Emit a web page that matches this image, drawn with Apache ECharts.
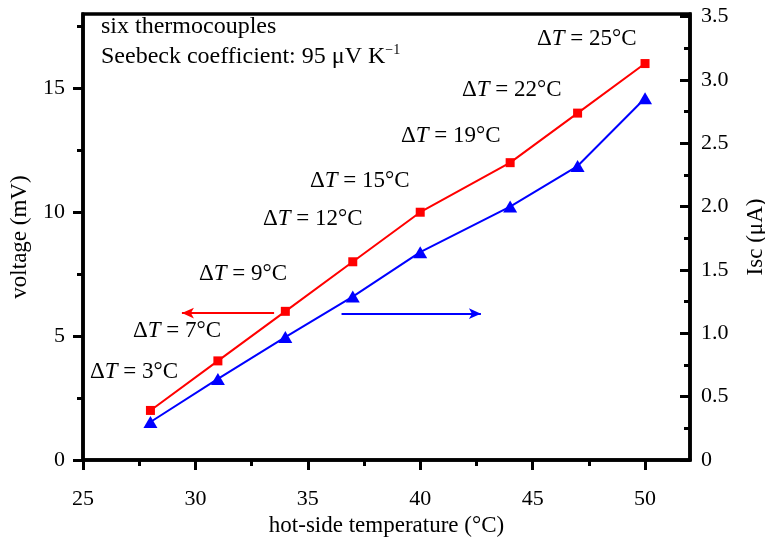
<!DOCTYPE html>
<html>
<head>
<meta charset="utf-8">
<script src="https://cdn.jsdelivr.net/npm/echarts@6/dist/echarts.min.js"></script>
<style>html,body{margin:0;padding:0;background:#fff}#c{width:765px;height:538px}</style>
</head>
<body>
<div id="c"></div>
<script>
// ---- data ----
const temperature = [28, 31, 34, 37, 40, 44, 47, 50];
const voltage = [2.0, 4.0, 6.0, 8.0, 10.0, 12.0, 14.0, 16.0];
const isc = [0.30, 0.64, 0.97, 1.29, 1.64, 2.00, 2.32, 2.855];
const deltaT = [3, 7, 9, 12, 15, 19, 22, 25];
const xTicks = [25, 30, 35, 40, 45, 50];
const xMinorTicks = [27.5, 32.5, 37.5, 42.5, 47.5];
const leftTicks = [0, 5, 10, 15];
const leftMinorTicks = [2.5, 7.5, 12.5, 17.5];
const rightTicks = [0, 0.5, 1.0, 1.5, 2.0, 2.5, 3.0, 3.5];
const rightMinorTicks = [0.25, 0.75, 1.25, 1.75, 2.25, 2.75, 3.25];

// ---- layout for annotations (pixels) ----
const annoPos = [[90,373],[133,332],[199,275],[263,220],[310,182],[401,137],[462,91],[537,40]];

const FONT = 'Liberation Serif';
const chart = echarts.init(document.getElementById('c'));

const axisLine = {show: true, lineStyle: {color: '#000', width: 3.5}};
const labelStyle = {color: '#000', fontFamily: FONT, fontSize: 22};

const graphics = deltaT.map((d, i) => ({
  type: 'text', left: annoPos[i][0], top: annoPos[i][1] - 13,
  style: {
    text: '{a|Δ}{i|T}{a| = ' + d + '°C}',
    rich: {
      a: {fontFamily: FONT, fontSize: 23, fill: '#000'},
      i: {fontFamily: FONT, fontSize: 23, fontStyle: 'italic', fill: '#000'}
    }
  }
}));
graphics.push({
  type: 'text', left: 101, top: 15,
  style: {text: 'six thermocouples', fontFamily: FONT, fontSize: 24, fill: '#000'}
});
graphics.push({
  type: 'text', left: 101, top: 43,
  style: {
    text: '{a|Seebeck coefficient: 95 μV K}{s|−1}',
    rich: {
      a: {fontFamily: FONT, fontSize: 24, fill: '#000', height: 28},
      s: {fontFamily: FONT, fontSize: 14, fill: '#000', verticalAlign: 'top', padding: [0,0,12,0]}
    }
  }
});

chart.setOption({
  animation: false,
  backgroundColor: '#fff',
  grid: {left: 83, right: 75, top: 14, bottom: 78, show: true, borderColor: '#000', borderWidth: 3.5,
         containLabel: false, outerBoundsMode: 'none'},
  xAxis: [{
    type: 'value', min: 25, max: 52, position: 'bottom',
    axisLine: axisLine,
    axisTick: {show: true, customValues: xTicks, length: 10, lineStyle: {color: '#000', width: 3}},
    axisLabel: Object.assign({customValues: xTicks, margin: 28}, labelStyle),
    splitLine: {show: false},
    name: 'hot-side temperature (°C)', nameLocation: 'middle', nameGap: 52,
    nameTextStyle: {color: '#000', fontFamily: FONT, fontSize: 23}
  }, {
    type: 'value', min: 25, max: 52, position: 'bottom',
    axisLine: {show: false},
    axisTick: {show: true, customValues: xMinorTicks, length: 6, lineStyle: {color: '#000', width: 3}},
    axisLabel: {show: false}, splitLine: {show: false}
  }],
  yAxis: [{
    type: 'value', min: 0, max: 18, position: 'left',
    axisLine: axisLine,
    axisTick: {show: true, customValues: leftTicks, length: 10, lineStyle: {color: '#000', width: 3}},
    axisLabel: Object.assign({customValues: leftTicks, margin: 18}, labelStyle),
    splitLine: {show: false},
    name: 'voltage (mV)', nameLocation: 'middle', nameGap: 52,
    nameTextStyle: {color: '#000', fontFamily: FONT, fontSize: 23}
  }, {
    type: 'value', min: 0, max: 3.52, position: 'right',
    axisLine: axisLine,
    axisTick: {show: true, inside: true, customValues: rightTicks, length: 10, lineStyle: {color: '#000', width: 3}},
    axisLabel: Object.assign({customValues: rightTicks, margin: 11,
      formatter: v => v === 0 ? '0' : v.toFixed(1)}, labelStyle),
    splitLine: {show: false},
    name: 'Isc (μA)', nameLocation: 'middle', nameGap: 54,
    nameTextStyle: {color: '#000', fontFamily: FONT, fontSize: 23}
  }, {
    type: 'value', min: 0, max: 18, position: 'left',
    axisLine: {show: false},
    axisTick: {show: true, customValues: leftMinorTicks, length: 6, lineStyle: {color: '#000', width: 3}},
    axisLabel: {show: false}, splitLine: {show: false}
  }, {
    type: 'value', min: 0, max: 3.52, position: 'right',
    axisLine: {show: false},
    axisTick: {show: true, inside: true, customValues: rightMinorTicks, length: 6, lineStyle: {color: '#000', width: 3}},
    axisLabel: {show: false}, splitLine: {show: false}
  }],
  graphic: graphics,
  series: [{
    name: 'voltage', type: 'line', xAxisIndex: 0, yAxisIndex: 0,
    data: temperature.map((t, i) => [t, voltage[i]]),
    symbol: 'rect', symbolSize: 9,
    lineStyle: {color: '#ff0000', width: 2},
    itemStyle: {color: '#ff0000'},
    markLine: {
      silent: true, symbol: ['none', 'arrow'], symbolSize: [8, 12],
      label: {show: false},
      lineStyle: {color: '#ff0000', width: 2, type: 'solid'},
      data: [[{coord: [33.5, 5.93]}, {coord: [29.4, 5.93]}]]
    }
  }, {
    name: 'Isc', type: 'line', xAxisIndex: 0, yAxisIndex: 1,
    data: temperature.map((t, i) => [t, isc[i]]),
    symbol: 'triangle', symbolSize: [14, 12],
    lineStyle: {color: '#0000ff', width: 2},
    itemStyle: {color: '#0000ff'},
    markLine: {
      silent: true, symbol: ['none', 'arrow'], symbolSize: [8, 12],
      label: {show: false},
      lineStyle: {color: '#0000ff', width: 2, type: 'solid'},
      data: [[{coord: [36.5, 1.155]}, {coord: [42.7, 1.155]}]]
    }
  }]
});
</script>
</body>
</html>
